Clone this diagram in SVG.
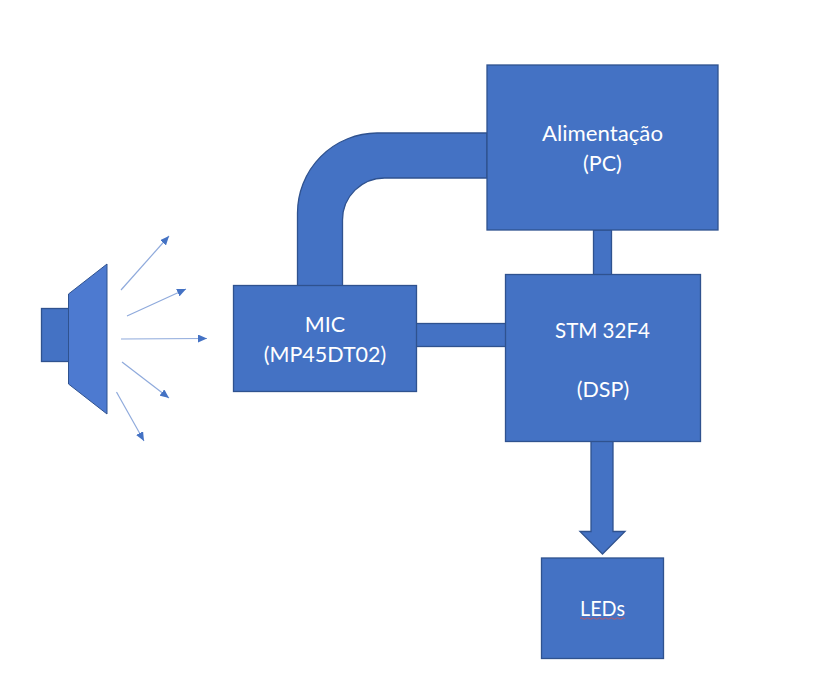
<svg xmlns="http://www.w3.org/2000/svg" width="835" height="693" viewBox="0 0 835 693">
<style>
.s{fill:#4472c4;stroke:#2f528f;stroke-width:1.3}
.t{font-family:"Lato","Open Sans","Liberation Sans",sans-serif;font-size:21.500px;fill:#fff;text-anchor:middle}
.r{stroke:#8faadc;stroke-width:1.2;fill:none;marker-end:url(#a)}
</style>
<defs><marker id="a" markerUnits="userSpaceOnUse" markerWidth="10" markerHeight="8" refX="9" refY="4" orient="auto"><path d="M0 0L9 4L0 8Z" fill="#4472c4"/></marker></defs>
<rect width="835" height="693" fill="#fff"/>
<g id="connectors">
<path class="s" d="M487 133H377A80 80 0 0 0 297.500 213V286H342.500V220A42 42 0 0 1 385 178H487Z"/>
<rect class="s" x="593.500" y="230" width="18" height="45"/>
<rect class="s" x="416" y="323.500" width="90" height="23"/>
<path class="s" d="M591 441H613V531.500H625L602.500 554L580 531.500H591Z"/>
<path class="r" d="M121 290L169 236"/>
<path class="r" d="M127 316L186 289"/>
<path class="r" d="M121 339L207 338.500"/>
<path class="r" d="M122 362L169 398"/>
<path class="r" d="M116.500 392L144 441"/>
</g>
<g id="speaker">
<rect x="41.500" y="308.500" width="28" height="53" fill="#4472c4" stroke="#2f528f" stroke-width="1.3"/>
<path d="M68.500 294L107 264V414L68.500 384Z" fill="#4d7ad0" stroke="#2f528f" stroke-width="1"/>
</g>
<g id="alimentacao">
<rect class="s" x="487" y="65" width="231" height="165"/>
<text class="t" x="602.500" y="141" textLength="121" lengthAdjust="spacingAndGlyphs">Alimentação</text>
<text class="t" x="602.500" y="171">(PC)</text>
</g>
<g id="mic">
<rect class="s" x="233.500" y="285.500" width="183" height="106"/>
<text class="t" x="325" y="332">MIC</text>
<text class="t" x="325" y="362">(MP45DT02)</text>
</g>
<g id="stm">
<rect class="s" x="505.500" y="274.500" width="195" height="167"/>
<text class="t" x="602.500" y="338" textLength="95" lengthAdjust="spacingAndGlyphs">STM 32F4</text>
<text class="t" x="603" y="397">(DSP)</text>
</g>
<g id="leds">
<rect class="s" x="541.500" y="558" width="122" height="100.500"/>
<text class="t" x="602.500" y="616" textLength="45" lengthAdjust="spacingAndGlyphs">LEDs</text>
<path d="M580 618.500q1.500-1.500 3 0t3 0t3 0t3 0t3 0t3 0t3 0t3 0t3 0t3 0t3 0t3 0t3 0t3 0t3 0" fill="none" stroke="#d9534f" stroke-width="0.8"/>
</g>
</svg>
